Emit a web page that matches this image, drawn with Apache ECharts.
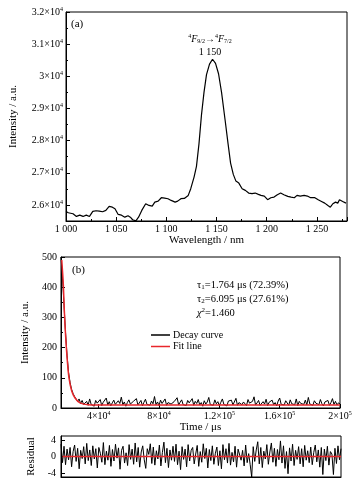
<!DOCTYPE html>
<html><head><meta charset="utf-8">
<script src="https://cdn.jsdelivr.net/npm/echarts@6/dist/echarts.min.js"></script>
<style>html,body{margin:0;padding:0;background:#fff}#c{width:361px;height:488px}</style>
</head><body><div id="c"></div>
<script>
// ---- panel (a): emission spectrum ----
const wavelengths = [1000,1002.3,1007,1010.4,1013.7,1017,1020.2,1023.4,1026.7,1030,1033.2,1036.5,1039.7,1043,1046.2,1048.8,1052,1055.3,1058.6,1061.8,1064.1,1066.4,1069.6,1072.3,1075.5,1079.4,1082.7,1085.9,1088.5,1091.8,1095,1098.3,1101.6,1104.8,1106.4,1108.7,1111.3,1114.5,1117.9,1121.8,1124.3,1127.6,1130,1132.5,1135,1137.5,1140,1143,1146,1149,1152,1155,1158.5,1161.5,1164,1166.7,1169.3,1172.2,1175.5,1178.7,1182,1185.3,1188.5,1191.7,1194.3,1197.6,1200.9,1204.1,1207.3,1210.6,1213.9,1217.1,1221,1224.3,1227.5,1230.2,1233.4,1237.3,1240.5,1243.8,1248,1251.3,1254.6,1257.8,1261,1263.4,1265.9,1268.6,1270.8,1272.5,1275.7,1279];
const intensities = [25798,25757,25726,25642,25682,25642,25682,25642,25798,25819,25807,25788,25829,25953,25931,25882,25704,25682,25620,25664,25620,25539,25505,25620,25829,26037,25984,25963,26087,26118,26224,26212,26193,26140,26171,26087,26118,26193,26202,26296,26505,26866,27200,27900,28800,29500,30050,30380,30530,30400,30080,29500,28650,27900,27300,26950,26741,26679,26505,26452,26369,26349,26369,26327,26296,26276,26162,26224,26243,26318,26369,26318,26265,26243,26224,26296,26276,26296,26276,26224,26224,26162,26109,26056,25984,25931,26037,26087,26056,26162,26109,26056];
const specYLabels = [26000,27000,28000,29000,30000,31000,32000];
const specYMinor = [25500,26500,27500,28500,29500,30500,31500];

// ---- panel (b): decay curve ----
const timeStart = 15000;
const timeStep = 1000;
const decayValues = [500,430,340,250,175,118,85,62,48,38,35,22,30,15,25,12,
14,22,9,30,12,18,6,25,16,11,28,8,19,13,33,10,21,7,17,26,
12,9,24,15,36,11,20,6,18,27,13,8,22,16,31,10,14,25,7,19,
29,12,17,9,23,14,38,11,20,8,26,15,12,30,9,18,24,13,7,21,
16,34,10,19,27,11,14,8,25,17,12,31,9,22,15,28,10,18,6,24,
13,20,35,11,16,9,27,14,21,8,19,30,12,15,7,23,17,26,10,13,
32,9,18,24,11,20,14,8,28,16,12,22,37,10,17,25,9,14,21,13,
29,8,19,15,26,11,18,7,23,33,12,16,10,24,20,9,27,14,17,11,
30,8,22,15,19,12,26,10,35,13,18,9,24,16,21,11,28,14,7,20,
15,25,9,18,31,12,22,10,17,13];
const fitTimes = [15500,16500,17200,18100,19200,20300,22100,24300,27600,33100,45000,200000];
const fitValues = [490,413,323,235,156,100,56,33,17,11,10,10];
const timeTicks = [40000,80000,120000,160000,200000];
const residuals = [3,-1.5,2.5,-2,1.8,-0.8,2.2,-2.5,1.2,2.8,
-1.2,2,-3,1.5,-0.5,2.4,-1.8,3.2,-1,1.6,
-2.2,2.6,-0.6,1.9,-2.8,2.2,0.8,-1.4,3.4,-2,
1.3,-0.9,2.7,-2.4,1.7,-1.1,3,-0.4,2.1,-3.1,
1.5,2.5,-1.6,0.9,-2.2,2.9,-0.7,1.8,-1.9,3.3,
-1.3,2.2,-2.6,1.1,2.6,-0.8,-2.9,1.9,0.5,3.1,
-1.7,2.3,-2.1,1.4,-0.6,2.8,-2.3,1,3.5,-1.5,
2,-2.7,1.6,-0.9,2.5,-1.2,3,-2,1.3,-3.2,
2.4,-0.7,1.8,-2.5,2.9,-1.1,1.5,2.2,-1.8,0.6,
2.7,-2.4,1.2,-1.4,3.1,-0.5,2,-2.8,1.7,-1,
2.6,-1.9,0.8,2.3,-2.2,1.4,-3,2.9,-0.8,1.9,
-1.6,3.2,-2.1,1,-1.3,2.5,-2.6,1.8,2.1,-0.9,
1.5,-2.3,2.8,-1.5,0.7,-2,-5,2.4,-1.2,1.6,
3.6,-1.8,2.2,-2.7,1.3,-0.6,2.9,-1.9,1.1,3.3,
-1.4,2,-2.4,1.7,-0.8,3.8,-1.6,2.6,-2.9,1.2,
-4.2,2.1,-1.1,3,-2.2,1.5,-0.7,2.4,-1.8,1.9,
-2.5,2.7,-0.9,1.4,-1.5,2.3,-2,1,2.8,-1.3,
1.6,-2.6,2.2,-4.4,1.8,-1,2.5,-2.1,1.2,0.6,
-4.4,2,-1.7,2.6,-0.8,1.9];
const residualTicks = [-4,0,4];

const FONT = 'Liberation Serif';
const specData = wavelengths.map((w,i)=>[w,intensities[i]]);
const decayData = decayValues.map((v,i)=>[timeStart+i*timeStep,v]);
const fitData = fitTimes.map((t,i)=>[t,fitValues[i]]);
const residData = residuals.map((v,i)=>[timeStart+i*timeStep,v]);

function sci(v){
  const e = Math.floor(Math.log10(v)+1e-9);
  const m = +(v/Math.pow(10,e)).toFixed(2);
  return '{a|'+m+'×10}{s|'+e+'}';
}
const sciRich = {a:{fontFamily:FONT,fontSize:10,color:'#000'}, s:{fontFamily:FONT,fontSize:6,color:'#000',verticalAlign:'top',padding:[0,0,6,0]}};
const axisCommon = {
  axisLine:{show:true,onZero:false,lineStyle:{color:'#000',width:1}},
  splitLine:{show:false},
  axisLabel:{color:'#000',fontFamily:FONT,fontSize:10},
  nameTextStyle:{color:'#000',fontFamily:FONT,fontSize:11}
};

const chart = echarts.init(document.getElementById('c'),null,{renderer:'canvas'});
chart.setOption({
  animation:false,
  backgroundColor:'#fff',
  grid:[
    {left:61,right:14,top:12,height:209,show:true,borderColor:'#000',borderWidth:1,backgroundColor:'transparent'},
    {left:61,right:21,top:257,height:151,show:true,borderColor:'#000',borderWidth:1,backgroundColor:'transparent'},
    {left:61,right:20,top:436,height:41,show:true,borderColor:'#000',borderWidth:1,backgroundColor:'transparent'}
  ],
  xAxis:[
    Object.assign({},axisCommon,{gridIndex:0,type:'value',min:1000,max:1280,interval:50,
      name:'Wavelength / nm',nameLocation:'middle',nameGap:13,
      axisTick:{inside:true,length:4,lineStyle:{color:'#000'}},
      minorTick:{show:true,splitNumber:2,length:2,lineStyle:{color:'#000'}},
      axisLabel:{color:'#000',fontFamily:FONT,fontSize:10,margin:3,showMaxLabel:false,
        formatter:v=>String(v).replace(/^(\d)(\d{3})$/,'$1 $2')}}),
    Object.assign({},axisCommon,{gridIndex:1,type:'value',min:timeStart,max:200000,
      name:'Time / μs',nameLocation:'middle',nameGap:14,
      axisTick:{inside:true,length:4,customValues:timeTicks,lineStyle:{color:'#000'}},
      axisLabel:{customValues:timeTicks,margin:2,formatter:v=>sci(v),rich:sciRich}}),
    Object.assign({},axisCommon,{gridIndex:2,type:'value',min:timeStart,max:200000,
      axisTick:{show:false},axisLabel:{show:false}})
  ],
  yAxis:[
    Object.assign({},axisCommon,{gridIndex:0,type:'value',min:25500,max:32000,
      name:'Intensity / a.u.',nameLocation:'middle',nameGap:47,
      axisTick:{inside:true,length:4,customValues:specYLabels,lineStyle:{color:'#000'}},
      axisLabel:{customValues:specYLabels,margin:3,formatter:v=>sci(v),rich:sciRich}}),
    {gridIndex:0,type:'value',min:25500,max:32000,position:'left',
      axisLine:{show:false},splitLine:{show:false},axisLabel:{show:false},
      axisTick:{show:true,inside:true,length:2,customValues:specYMinor,lineStyle:{color:'#000'}}},
    Object.assign({},axisCommon,{gridIndex:1,type:'value',min:0,max:500,interval:100,
      name:'Intensity / a.u.',nameLocation:'middle',nameGap:25,
      axisTick:{inside:true,length:4,lineStyle:{color:'#000'}},
      minorTick:{show:true,splitNumber:2,length:2,lineStyle:{color:'#000'}},
      axisLabel:{color:'#000',fontFamily:FONT,fontSize:10,margin:4}}),
    Object.assign({},axisCommon,{gridIndex:2,type:'value',min:-5,max:5,
      name:'Residual',nameLocation:'middle',nameGap:20,
      axisTick:{inside:true,length:4,customValues:residualTicks,lineStyle:{color:'#000'}},
      axisLabel:{color:'#000',fontFamily:FONT,fontSize:10,margin:5,customValues:residualTicks}})
  ],
  legend:{left:146,top:325,orient:'vertical',itemWidth:19,itemHeight:1.5,itemGap:1.5,
    textStyle:{fontFamily:FONT,fontSize:10,color:'#000',padding:[0,0,0,-2]},
    data:[{name:'Decay curve',icon:'rect',itemStyle:{color:'#000'}},{name:'Fit line',icon:'rect',itemStyle:{color:'#e8262b'}}]},
  series:[
    {type:'line',xAxisIndex:0,yAxisIndex:0,data:specData,showSymbol:false,lineStyle:{color:'#000',width:1.2},silent:true},
    {name:'Decay curve',type:'line',xAxisIndex:1,yAxisIndex:2,data:decayData,symbol:'none',lineStyle:{color:'#000',width:1},itemStyle:{color:'#000'},silent:true},
    {name:'Fit line',type:'line',xAxisIndex:1,yAxisIndex:2,data:fitData,smooth:0.3,symbol:'none',lineStyle:{color:'#e8262b',width:1.5},itemStyle:{color:'#e8262b'},silent:true},
    {type:'line',xAxisIndex:2,yAxisIndex:3,data:residData,symbol:'none',lineStyle:{color:'#000',width:1},silent:true},
    {type:'line',xAxisIndex:2,yAxisIndex:3,data:[[16000,0],[200000,0]],symbol:'none',lineStyle:{color:'#e8262b',width:1.5},silent:true}
  ],
  graphic:[
    {type:'text',left:71,top:19,style:{text:'(a)',font:'11px "Liberation Serif"',fill:'#000'}},
    {type:'text',left:72,top:265,style:{text:'(b)',font:'11px "Liberation Serif"',fill:'#000'}},
    {type:'text',x:210,y:39,style:{text:'{p|4}{i|F}{b|9/2}{n|→}{p|4}{i|F}{b|7/2}',align:'center',verticalAlign:'middle',
      rich:{p:{fontFamily:FONT,fontSize:6,verticalAlign:'top',padding:[0,0,6,0]},
            i:{fontFamily:FONT,fontSize:10,fontStyle:'italic'},
            b:{fontFamily:FONT,fontSize:6,padding:[5,0,0,0]},
            n:{fontFamily:FONT,fontSize:10}}}},
    {type:'text',x:210,y:52,style:{text:'1 150',font:'10px "Liberation Serif"',fill:'#000',align:'center',verticalAlign:'middle'}},
    {type:'text',x:197,y:285,style:{text:'{t|τ}{b|1}{t|=1.764 μs (72.39%)}',verticalAlign:'middle',
      rich:{t:{fontFamily:FONT,fontSize:10.5},b:{fontFamily:FONT,fontSize:7,padding:[5,0,0,0]}}}},
    {type:'text',x:197,y:299,style:{text:'{t|τ}{b|2}{t|=6.095 μs (27.61%)}',verticalAlign:'middle',
      rich:{t:{fontFamily:FONT,fontSize:10.5},b:{fontFamily:FONT,fontSize:7,padding:[5,0,0,0]}}}},
    {type:'text',x:197,y:313,style:{text:'{i|χ}{p|2}{t|=1.460}',verticalAlign:'middle',
      rich:{i:{fontFamily:FONT,fontSize:10.5,fontStyle:'italic'},t:{fontFamily:FONT,fontSize:10.5},p:{fontFamily:FONT,fontSize:7,padding:[0,0,6,0]}}}}
  ]
});
</script></body></html>
